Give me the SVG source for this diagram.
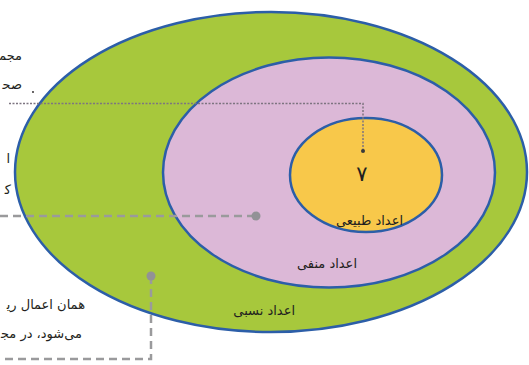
<svg xmlns="http://www.w3.org/2000/svg" width="529" height="365" viewBox="0 0 529 365">
<style>
.ring{stroke:#2c5ea8;stroke-width:2.5}
.lbl{font-family:"DejaVu Sans",sans-serif;font-size:13px;fill:#231f20}
.side{font-family:"DejaVu Sans",sans-serif;font-size:13px;fill:#231f20}
.dash{fill:none;stroke:#9a9a9c;stroke-width:2.5;stroke-dasharray:8 5}
.dot{fill:#929296}
</style>
<rect width="529" height="365" fill="#ffffff"/>
<g id="rational">
<ellipse class="ring" cx="271" cy="172" rx="256" ry="160" fill="#a7c83c"/>
<text class="lbl" x="295" y="315" text-anchor="end">اعداد نسبی</text>
</g>
<g id="integers">
<ellipse class="ring" cx="329" cy="172.5" rx="166" ry="115" fill="#dcb8d7"/>
<text class="lbl" x="357" y="268" text-anchor="end">اعداد منفی</text>
</g>
<g id="natural">
<ellipse class="ring" cx="366" cy="175" rx="76" ry="57" fill="#f8c84a"/>
<text class="lbl" x="403" y="225" text-anchor="end">اعداد طبیعی</text>
<text x="362" y="181" font-family="DejaVu Sans,sans-serif" font-size="21" text-anchor="middle" fill="#231f20">۷</text>
</g>
<g id="connectors">
<polyline points="9,103.5 363,103.5 363,151" fill="none" stroke="#7d7480" stroke-width="1.5" stroke-dasharray="2 1.5"/>
<circle cx="363" cy="151" r="2" fill="#3a3a3a"/>
<line class="dash" x1="0" y1="216" x2="256" y2="216"/>
<circle class="dot" cx="256" cy="216" r="4.5"/>
<polyline class="dash" points="151,276 151,359 0,359"/>
<circle class="dot" cx="151" cy="276" r="4.5"/>
</g>
<g id="side-text">
<text class="side" x="22" y="60" text-anchor="end">مجم‍</text>
<text class="side" x="22" y="89" text-anchor="end">صح‍</text>
<circle cx="33" cy="92" r="0.9" fill="#231f20"/>
<text class="side" x="10" y="163" text-anchor="end">ا</text>
<text class="side" x="11" y="194" text-anchor="end">ک‍</text>
<text class="side" x="85" y="309" text-anchor="end">همان اعمال ری‍</text>
<text class="side" x="82" y="338" text-anchor="end">می‌شود، در مج‍</text>
</g>
</svg>
